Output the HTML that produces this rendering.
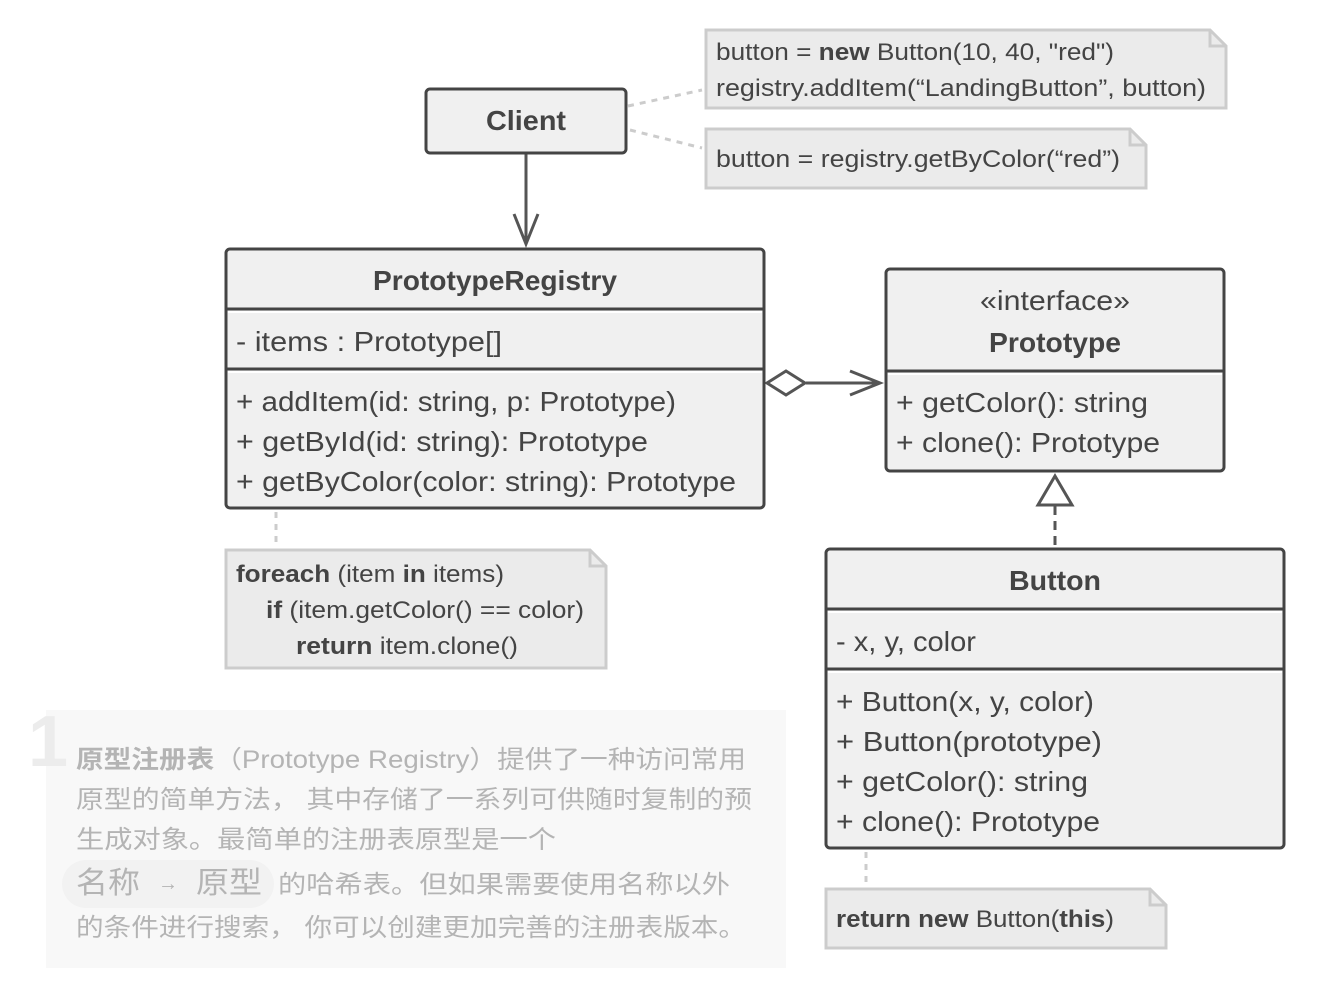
<!DOCTYPE html>
<html><head><meta charset="utf-8"><style>
body{margin:0;background:#fff;}
svg text{font-family:"Liberation Sans",sans-serif;fill:#444;}
.cn{font-family:"Liberation Sans","Noto Sans CJK SC",sans-serif;fill:#b4b4b4;font-size:25px;}
</style></head><body>
<svg width="1344" height="996" viewBox="0 0 1344 996" xmlns="http://www.w3.org/2000/svg">
<!-- bottom block -->
<rect x="46" y="710" width="740" height="258" fill="#f8f8f8"/>
<text x="28" y="766" style="font-size:72px;font-weight:bold;fill:#ececec">1</text>
<rect x="62" y="860" width="212" height="48" rx="24" fill="#f2f2f2"/>
<text class="cn" x="76" y="768" textLength="670" lengthAdjust="spacingAndGlyphs"><tspan font-weight="bold">原型注册表</tspan>（Prototype Registry）提供了一种访问常用</text>
<text class="cn" x="76" y="808" textLength="676" lengthAdjust="spacingAndGlyphs">原型的简单方法， 其中存储了一系列可供随时复制的预</text>
<text class="cn" x="76" y="848" textLength="480" lengthAdjust="spacingAndGlyphs">生成对象。最简单的注册表原型是一个</text>
<text class="cn" x="76" y="893" style="font-size:30px" textLength="64" lengthAdjust="spacingAndGlyphs">名称</text>
<text class="cn" x="158" y="890" style="font-size:20px">→</text>
<text class="cn" x="196" y="893" style="font-size:30px" textLength="66" lengthAdjust="spacingAndGlyphs">原型</text>
<text class="cn" x="278" y="893" textLength="452" lengthAdjust="spacingAndGlyphs">的哈希表。但如果需要使用名称以外</text>
<text class="cn" x="76" y="936" textLength="670" lengthAdjust="spacingAndGlyphs">的条件进行搜索， 你可以创建更加完善的注册表版本。</text>

<!-- dotted connectors -->
<g stroke="#ccc" stroke-width="3" stroke-dasharray="6,6" fill="none">
<line x1="628" y1="106" x2="702" y2="90"/>
<line x1="630" y1="130" x2="702" y2="148"/>
<line x1="276" y1="512" x2="276" y2="546"/>
<line x1="866" y1="852" x2="866" y2="886"/>
</g>

<!-- notes -->
<g fill="#ebebeb" stroke="#ccc" stroke-width="3">
<path d="M706 30 H1210 L1226 46 V108 H706 Z"/><path d="M1210 30 V46 H1226" fill="none"/>
<path d="M706 129 H1130 L1146 145 V188 H706 Z"/><path d="M1130 129 V145 H1146" fill="none"/>
<path d="M226 550 H590 L606 566 V668 H226 Z"/><path d="M590 550 V566 H606" fill="none"/>
<path d="M826 889 H1150 L1166 905 V948 H826 Z"/><path d="M1150 889 V905 H1166" fill="none"/>
</g>
<g style="font-size:24px">
<text x="716" y="60" textLength="398" lengthAdjust="spacingAndGlyphs">button = <tspan font-weight="bold">new</tspan> Button(10, 40, "red")</text>
<text x="716" y="96" textLength="490" lengthAdjust="spacingAndGlyphs">registry.addItem(“LandingButton”, button)</text>
<text x="716" y="167" textLength="404" lengthAdjust="spacingAndGlyphs">button = registry.getByColor(“red”)</text>
<text x="236" y="582" textLength="268" lengthAdjust="spacingAndGlyphs"><tspan font-weight="bold">foreach</tspan> (item <tspan font-weight="bold">in</tspan> items)</text>
<text x="266" y="618" textLength="318" lengthAdjust="spacingAndGlyphs"><tspan font-weight="bold">if</tspan> (item.getColor() == color)</text>
<text x="296" y="654" textLength="222" lengthAdjust="spacingAndGlyphs"><tspan font-weight="bold">return</tspan> item.clone()</text>
<text x="836" y="927" textLength="278" lengthAdjust="spacingAndGlyphs"><tspan font-weight="bold">return new</tspan> Button(<tspan font-weight="bold">this</tspan>)</text>
</g>

<!-- arrows -->
<g stroke="#555" stroke-width="3" fill="none">
<line x1="526" y1="154" x2="526" y2="244"/>
<path d="M514 214 L526 244 L538 214"/>
<line x1="806" y1="383" x2="880" y2="383"/>
<path d="M850 371 L880 383 L850 395"/>
<path d="M767 383 L786 371 L805 383 L786 395 Z" fill="#fff"/>
<line x1="1055" y1="506" x2="1055" y2="548" stroke-dasharray="9,6"/>
<path d="M1055 476 L1072 505 L1038 505 Z" fill="#fff"/>
</g>

<!-- boxes -->
<g fill="#f0f0f0" stroke="#444" stroke-width="3">
<rect x="426" y="89" width="200" height="64" rx="4"/>
<rect x="226" y="249" width="538" height="259" rx="4"/>
<line x1="226" y1="309" x2="764" y2="309"/><line x1="226" y1="369" x2="764" y2="369"/>
<rect x="886" y="269" width="338" height="202" rx="4"/>
<line x1="886" y1="371" x2="1224" y2="371"/>
<rect x="826" y="549" width="458" height="299" rx="4"/>
<line x1="826" y1="609" x2="1284" y2="609"/><line x1="826" y1="669" x2="1284" y2="669"/>
</g>
<g stroke="#fff" stroke-width="2">
<line x1="228" y1="312" x2="762" y2="312"/><line x1="228" y1="372" x2="762" y2="372"/>
<line x1="888" y1="374" x2="1222" y2="374"/>
<line x1="828" y1="612" x2="1282" y2="612"/><line x1="828" y1="672" x2="1282" y2="672"/>
</g>
<g style="font-size:28px">
<text x="526" y="130" text-anchor="middle" font-weight="bold" textLength="80" lengthAdjust="spacingAndGlyphs">Client</text>
<text x="495" y="290" text-anchor="middle" font-weight="bold" textLength="244" lengthAdjust="spacingAndGlyphs">PrototypeRegistry</text>
<text x="236" y="351" textLength="266" lengthAdjust="spacingAndGlyphs">- items : Prototype[]</text>
<text x="236" y="411" textLength="440" lengthAdjust="spacingAndGlyphs">+ addItem(id: string, p: Prototype)</text>
<text x="236" y="451" textLength="412" lengthAdjust="spacingAndGlyphs">+ getById(id: string): Prototype</text>
<text x="236" y="491" textLength="500" lengthAdjust="spacingAndGlyphs">+ getByColor(color: string): Prototype</text>
<text x="1055" y="310" text-anchor="middle" textLength="150" lengthAdjust="spacingAndGlyphs">«interface»</text>
<text x="1055" y="352" text-anchor="middle" font-weight="bold" textLength="132" lengthAdjust="spacingAndGlyphs">Prototype</text>
<text x="896" y="412" textLength="252" lengthAdjust="spacingAndGlyphs">+ getColor(): string</text>
<text x="896" y="452" textLength="264" lengthAdjust="spacingAndGlyphs">+ clone(): Prototype</text>
<text x="1055" y="590" text-anchor="middle" font-weight="bold" textLength="92" lengthAdjust="spacingAndGlyphs">Button</text>
<text x="836" y="651" textLength="140" lengthAdjust="spacingAndGlyphs">- x, y, color</text>
<text x="836" y="711" textLength="258" lengthAdjust="spacingAndGlyphs">+ Button(x, y, color)</text>
<text x="836" y="751" textLength="266" lengthAdjust="spacingAndGlyphs">+ Button(prototype)</text>
<text x="836" y="791" textLength="252" lengthAdjust="spacingAndGlyphs">+ getColor(): string</text>
<text x="836" y="831" textLength="264" lengthAdjust="spacingAndGlyphs">+ clone(): Prototype</text>
</g>
</svg>
</body></html>
